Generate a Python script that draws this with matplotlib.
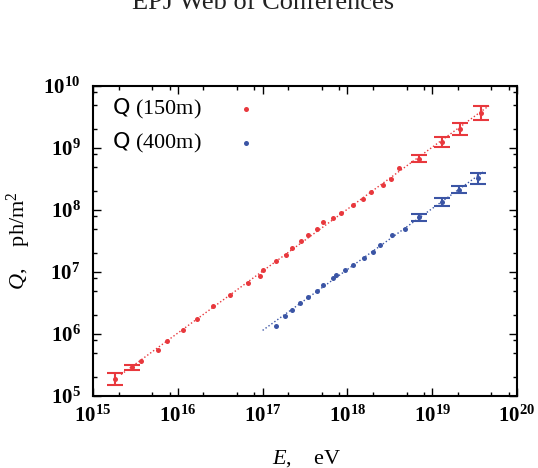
import numpy as np
import matplotlib
matplotlib.use("Agg")
import matplotlib.pyplot as plt
from matplotlib.ticker import LogLocator, FixedLocator, NullFormatter

plt.rcParams['font.family'] = ['Liberation Serif', 'DejaVu Serif']
plt.rcParams['mathtext.fontset'] = 'custom'
plt.rcParams['mathtext.rm'] = 'Liberation Serif'
plt.rcParams['mathtext.it'] = 'Liberation Serif:italic'
plt.rcParams['mathtext.bf'] = 'Liberation Serif:bold'
plt.rcParams['mathtext.sf'] = 'DejaVu Sans'

# data (log10 values)
logE_150 = [15.26, 15.46, 15.57, 15.77, 15.87, 16.06, 16.23, 16.42, 16.61, 16.83,
            16.97, 17.01, 17.16, 17.28, 17.35, 17.45, 17.53, 17.64, 17.71, 17.83,
            17.92, 18.07, 18.18, 18.28, 18.42, 18.51, 18.61, 18.84, 19.12, 19.33, 19.58]
logQ_150 = [5.27, 5.46, 5.57, 5.75, 5.88, 6.07, 6.25, 6.45, 6.63, 6.82,
            6.94, 7.04, 7.17, 7.27, 7.39, 7.50, 7.60, 7.69, 7.80, 7.87,
            7.95, 8.08, 8.17, 8.29, 8.40, 8.50, 8.68, 8.83, 9.10, 9.31, 9.57]
err_150 = [0.095, 0.04] + [0.0] * 25 + [0.06, 0.08, 0.095, 0.115]

logE_400 = [17.16, 17.26, 17.35, 17.44, 17.53, 17.64, 17.71, 17.83, 17.87, 17.97,
            18.07, 18.20, 18.30, 18.39, 18.53, 18.68, 18.84, 19.12, 19.32, 19.54]
logQ_400 = [6.13, 6.29, 6.39, 6.50, 6.59, 6.69, 6.79, 6.90, 6.95, 7.04,
            7.11, 7.23, 7.32, 7.44, 7.60, 7.70, 7.88, 8.13, 8.33, 8.51]
err_400 = [0.0] * 16 + [0.055, 0.06, 0.06, 0.09]

fit_range_150 = (15.33, 19.67)
fit_range_400 = (17.0, 19.6)

labels = [r'$\mathsf{Q}$ (150m)', r'$\mathsf{Q}$ (400m)']
red = '#e8383d'
blue = '#3b55a5'

fig = plt.figure(figsize=(5.38, 4.68), dpi=100)
ax = fig.add_axes([93 / 538, 72 / 468, 424 / 538, 310 / 468])

fig.text(263 / 538, 1 - 9 / 468, 'EPJ Web of Conferences', ha='center',
         va='baseline', fontsize=19, color='#222222')


def draw(logE, logQ, err, rng, color):
    E = 10 ** np.array(logE)
    Q = 10 ** np.array(logQ)
    d = np.array(err)
    # dotted power-law fit through the points
    k, b = np.polyfit(logE, logQ, 1)
    xf = np.linspace(rng[0], rng[1], 50)
    ax.plot(10 ** xf, 10 ** (k * xf + b), color=color, lw=1.0,
            ls=(0, (1, 1.6)), zorder=1)
    ax.plot(E, Q, 'o', color=color, ms=3.6, mec='none', zorder=3)
    m = d > 0
    lo = Q[m] - 10 ** (np.array(logQ)[m] - d[m])
    hi = 10 ** (np.array(logQ)[m] + d[m]) - Q[m]
    ax.errorbar(E[m], Q[m], yerr=[lo, hi], fmt='none', ecolor=color,
                elinewidth=1.5, capsize=5.5, capthick=1.5, zorder=2)


draw(logE_150, logQ_150, err_150, fit_range_150, red)
draw(logE_400, logQ_400, err_400, fit_range_400, blue)

# key: text on the left, marker on the right
for i, (lab, c) in enumerate(zip(labels, [red, blue])):
    yk = 1 - (23 + 34 * i) / 310
    ax.text(19 / 424, yk, lab, transform=ax.transAxes, fontsize=16,
            va='center', ha='left')
    ax.plot([153 / 424], [yk], 'o', color=c, ms=3.6, mec='none',
            transform=ax.transAxes)

ax.set_xscale('log')
ax.set_yscale('log')
ax.set_xlim(1e15, 1e20)
ax.set_ylim(1e5, 1e10)

ax.xaxis.set_major_locator(FixedLocator([10.0 ** p for p in range(15, 21)]))
ax.yaxis.set_major_locator(FixedLocator([10.0 ** p for p in range(5, 11)]))
ax.xaxis.set_minor_locator(LogLocator(base=10, subs=(2, 5, 8), numticks=20))
ax.yaxis.set_minor_locator(LogLocator(base=10, subs=(2, 5, 8), numticks=20))
ax.xaxis.set_minor_formatter(NullFormatter())
ax.yaxis.set_minor_formatter(NullFormatter())
ax.set_xticklabels([r'$\mathbf{10^{%d}}$' % p for p in range(15, 21)])
ax.set_yticklabels([r'$\mathbf{10^{%d}}$' % p for p in range(5, 11)])

ax.tick_params(which='both', direction='in', top=True, right=True, width=1.0)
ax.tick_params(which='major', length=6, labelsize=15)
ax.tick_params(which='minor', length=3)
ax.tick_params(axis='x', which='major', pad=7)
ax.tick_params(axis='y', which='major', pad=9)
for s in ax.spines.values():
    s.set_linewidth(1.5)

ax.set_xlabel(r'$E$,    eV', fontsize=16)
ax.set_ylabel(r'$Q$,    ph/m$^2$', fontsize=16)
ax.xaxis.set_label_coords(0.505, -0.168)
ax.yaxis.set_label_coords(-0.142, 0.5)

fig.savefig('out.png', dpi=100)
